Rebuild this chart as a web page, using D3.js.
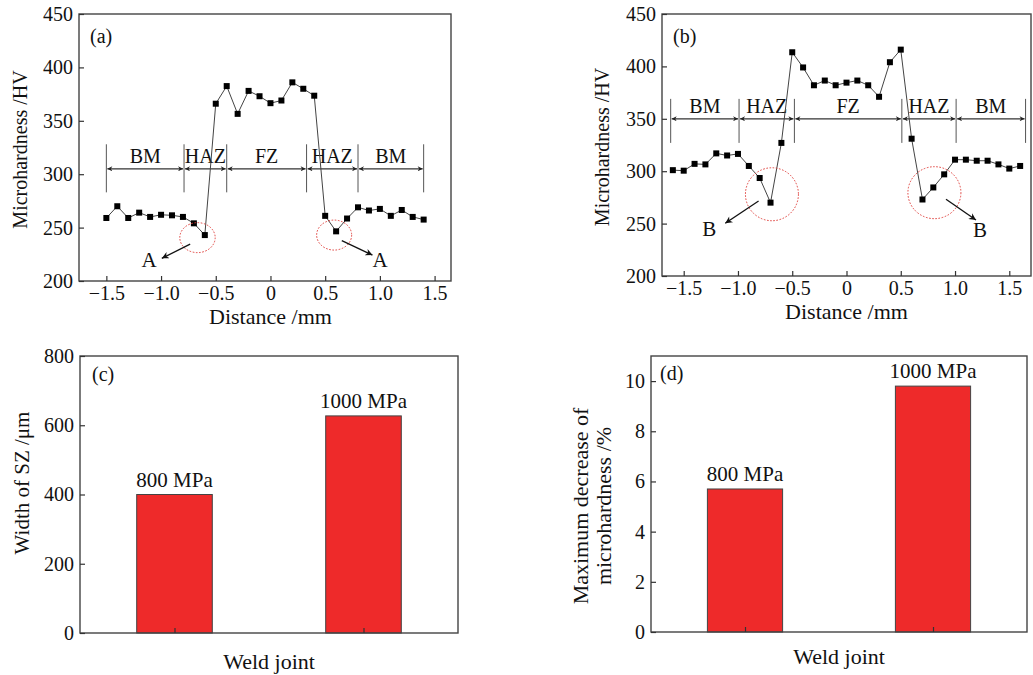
<!DOCTYPE html>
<html>
<head>
<meta charset="utf-8">
<script src="https://cdn.jsdelivr.net/npm/d3@7"></script>
<style>
body { margin: 0; background: white; }
text { font-family: "Liberation Serif", "Times New Roman", serif; fill: #111; }
</style>
</head>
<body>
<div id="chart"></div>
<script>
// Data

var distA = [-1.5, -1.4, -1.3, -1.2, -1.1, -1.0, -0.9, -0.8, -0.7, -0.6, -0.5, -0.4, -0.3, -0.2, -0.1, 0,
    0.1, 0.2, 0.3, 0.4, 0.5, 0.6, 0.7, 0.8, 0.9, 1.0, 1.1, 1.2, 1.3, 1.4];
var hvA = [259, 270, 259, 264, 260, 262, 261.5, 260, 254, 243, 366, 382.5, 356.5, 378, 373, 366.5,
    369, 386, 380, 373.5, 261, 246.5, 258.5, 269, 266, 267.5, 261, 266.5, 260, 257.5];

var distB = [-1.6, -1.5, -1.4, -1.3, -1.2, -1.1, -1.0, -0.9, -0.8, -0.7, -0.6, -0.5, -0.4, -0.3, -0.2, -0.1, 0,
    0.1, 0.2, 0.3, 0.4, 0.5, 0.6, 0.7, 0.8, 0.9, 1.0, 1.1, 1.2, 1.3, 1.4, 1.5, 1.6];
var hvB = [301, 300.5, 307, 306.5, 317, 315, 316.5, 305, 293.5, 270, 327, 413.5, 399, 382, 386.5, 382, 384.5,
    386.5, 382, 371, 404, 416, 331, 273, 284.5, 297, 311, 311, 310, 310, 306.5, 302.5, 305];

var zoneNames = ["BM", "HAZ", "FZ", "HAZ", "BM"];
var zoneBoundsA = [-1.5, -0.79, -0.4, 0.33, 0.8, 1.4];
var zoneBoundsB = [-1.62, -0.99, -0.48, 0.51, 1.01, 1.65];

var joints = ["800 MPa", "1000 MPa"];
var szWidth = [400, 627];
var hvDecrease = [5.7, 9.8];

var xTicks = [-1.5, -1.0, -0.5, 0, 0.5, 1.0, 1.5];
var hvTicks = [200, 250, 300, 350, 400, 450];
var szTicks = [0, 200, 400, 600, 800];
var decTicks = [0, 2, 4, 6, 8, 10];

var svg = d3.select("#chart")
    .append("svg")
    .attr("width", 1033)
    .attr("height", 675);

var defs = svg.append("defs");
defs.append("marker")
    .attr("id", "head")
    .attr("viewBox", "0 0 10 10")
    .attr("refX", 10)
    .attr("refY", 5)
    .attr("markerWidth", 7)
    .attr("markerHeight", 5)
    .attr("markerUnits", "userSpaceOnUse")
    .attr("orient", "auto-start-reverse")
    .append("path")
    .attr("d", "M0,0 L10,5 L0,10 L3,5 Z")
    .attr("fill", "#222");
defs.append("marker")
    .attr("id", "bighead")
    .attr("viewBox", "0 0 10 10")
    .attr("refX", 10)
    .attr("refY", 5)
    .attr("markerWidth", 10)
    .attr("markerHeight", 7)
    .attr("markerUnits", "userSpaceOnUse")
    .attr("orient", "auto")
    .append("path")
    .attr("d", "M0,0 L10,5 L0,10 L3,5 Z")
    .attr("fill", "#111");

var fmt = function(d) { return d === 0 ? "0" : d3.format(".1f")(d); };

function styleAxis(g) {
    g.select(".domain").remove();
    g.selectAll(".tick line").attr("stroke", "#333").attr("stroke-width", 1.2);
    g.selectAll(".tick text")
        .attr("fill", "#111")
        .style("font-family", "'Liberation Serif', serif")
        .style("font-size", "20px");
}

function frame(x0, x1, y0, y1) {
    svg.append("rect")
        .attr("x", x0).attr("y", y0)
        .attr("width", x1 - x0).attr("height", y1 - y0)
        .attr("fill", "none")
        .attr("stroke", "#444")
        .attr("stroke-width", 1.4);
}

// Microhardness profile panels

function profile(opt) {
    var x = d3.scaleLinear().domain(opt.xDomain).range([opt.left, opt.right]);
    var y = d3.scaleLinear().domain([200, 450]).range([opt.bottom, opt.top]);

    frame(opt.left, opt.right, opt.top, opt.bottom);

    svg.append("g")
        .attr("transform", "translate(0," + opt.bottom + ")")
        .call(d3.axisBottom(x).tickValues(xTicks).tickFormat(fmt).tickSizeInner(-5).tickSizeOuter(0).tickPadding(5))
        .call(styleAxis);
    svg.append("g")
        .attr("transform", "translate(" + opt.left + ",0)")
        .call(d3.axisLeft(y).tickValues(hvTicks).tickSizeInner(-5).tickSizeOuter(0).tickPadding(6))
        .call(styleAxis);

    // zones
    var zb = opt.zones;
    svg.append("g").selectAll("line")
        .data(zb)
        .enter()
        .append("line")
        .attr("x1", function(d) { return x(d); })
        .attr("x2", function(d) { return x(d); })
        .attr("y1", y(opt.zoneTop))
        .attr("y2", y(opt.zoneBottom))
        .attr("stroke", "#555")
        .attr("stroke-width", 1);
    svg.append("g").selectAll("line")
        .data(zoneNames)
        .enter()
        .append("line")
        .attr("x1", function(d, i) { return x(zb[i]) + 1; })
        .attr("x2", function(d, i) { return x(zb[i + 1]) - 1; })
        .attr("y1", y(opt.zoneArrow))
        .attr("y2", y(opt.zoneArrow))
        .attr("stroke", "#333")
        .attr("stroke-width", 1.3)
        .attr("marker-start", "url(#head)")
        .attr("marker-end", "url(#head)");
    svg.append("g").selectAll("text")
        .data(zoneNames)
        .enter()
        .append("text")
        .attr("x", function(d, i) { return x((zb[i] + zb[i + 1]) / 2); })
        .attr("y", y(opt.zoneArrow) - 6)
        .attr("text-anchor", "middle")
        .style("font-size", "20px")
        .text(function(d) { return d; });

    // series
    var line = d3.line()
        .x(function(d, i) { return x(opt.xs[i]); })
        .y(function(d) { return y(d); });
    svg.append("path")
        .datum(opt.ys)
        .attr("d", line)
        .attr("fill", "none")
        .attr("stroke", "#444")
        .attr("stroke-width", 1);
    svg.append("g").selectAll("rect")
        .data(opt.ys)
        .enter()
        .append("rect")
        .attr("x", function(d, i) { return x(opt.xs[i]) - 3; })
        .attr("y", function(d) { return y(d) - 3; })
        .attr("width", 6)
        .attr("height", 6)
        .attr("fill", "#000");

    // circled regions + arrows
    opt.circles.forEach(function(c) {
        svg.append("ellipse")
            .attr("cx", x(c[0])).attr("cy", y(c[1]))
            .attr("rx", c[2]).attr("ry", c[3])
            .attr("fill", "none")
            .attr("stroke", "#e0403c")
            .attr("stroke-width", 1)
            .attr("stroke-dasharray", "1.6,1.6");
    });
    opt.arrows.forEach(function(a) {
        svg.append("line")
            .attr("x1", x(a[0])).attr("y1", y(a[1]))
            .attr("x2", x(a[2])).attr("y2", y(a[3]))
            .attr("stroke", "#111")
            .attr("stroke-width", 1.3)
            .attr("marker-end", "url(#bighead)");
        svg.append("text")
            .attr("x", x(a[4])).attr("y", y(a[5]))
            .attr("text-anchor", "middle")
            .style("font-size", "21px")
            .text(opt.mark);
    });

    svg.append("text")
        .attr("x", opt.left + 11).attr("y", opt.top + 29)
        .style("font-size", "20px")
        .text(opt.tag);
    svg.append("text")
        .attr("transform", "translate(" + opt.yLabelX + "," + ((opt.top + opt.bottom) / 2 + 2) + ") rotate(-90)")
        .attr("text-anchor", "middle")
        .attr("dy", "0.35em")
        .style("font-size", "20px")
        .text("Microhardness /HV");
    svg.append("text")
        .attr("x", x(0))
        .attr("y", opt.bottom + 43)
        .attr("text-anchor", "middle")
        .style("font-size", "22px")
        .text("Distance /mm");
}

profile({
    tag: "(a)", mark: "A",
    xs: distA, ys: hvA, zones: zoneBoundsA,
    xDomain: [-1.75, 1.65],
    left: 79, right: 451, top: 14, bottom: 281, yLabelX: 20,
    zoneTop: 328, zoneBottom: 283, zoneArrow: 305,
    circles: [[-0.667, 240.6, 17.7, 15], [0.582, 243, 17.5, 15]],
    arrows: [[-0.734, 234.6, -0.993, 221.2, -1.109, 213.4],
             [0.652, 237.8, 0.932, 224.3, 1.002, 213.4]]
});

profile({
    tag: "(b)", mark: "B",
    xs: distB, ys: hvB, zones: zoneBoundsB,
    xDomain: [-1.7, 1.7],
    left: 662, right: 1031, top: 14, bottom: 276, yLabelX: 602,
    zoneTop: 369, zoneBottom: 327, zoneArrow: 350,
    circles: [[-0.687, 278, 26.5, 26.5], [0.81, 279.5, 26.5, 26]],
    arrows: [[-0.81, 271.6, -1.117, 250.3, -1.264, 238.2],
             [0.917, 273.2, 1.193, 253.4, 1.23, 236.9]]
});

// Bar panels

function bars(opt) {
    var x = d3.scaleBand().domain(joints).range([opt.left, opt.right])
        .paddingInner(0.6).paddingOuter(0.3);
    var y = d3.scaleLinear().domain(opt.yDomain).range([opt.bottom, opt.top]);

    svg.append("g").selectAll("rect")
        .data(opt.values)
        .enter()
        .append("rect")
        .attr("x", function(d, i) { return x(joints[i]); })
        .attr("y", function(d) { return y(d); })
        .attr("width", x.bandwidth())
        .attr("height", function(d) { return y(opt.yDomain[0]) - y(d); })
        .attr("fill", "#ee2a2a")
        .attr("stroke", "#444")
        .attr("stroke-width", 1);
    svg.append("g").selectAll("text")
        .data(opt.values)
        .enter()
        .append("text")
        .attr("x", function(d, i) { return x(joints[i]) + x.bandwidth() / 2; })
        .attr("y", function(d) { return y(d) - 8; })
        .attr("text-anchor", "middle")
        .style("font-size", "21px")
        .text(function(d, i) { return joints[i]; });

    frame(opt.left, opt.right, opt.top, opt.bottom);

    var xc = d3.scalePoint().domain(joints).range([opt.left, opt.right]).padding(0.5);
    svg.append("g")
        .attr("transform", "translate(0," + opt.bottom + ")")
        .call(d3.axisBottom(xc).tickSizeInner(-5).tickSizeOuter(0).tickFormat(""))
        .call(styleAxis);
    svg.append("g")
        .attr("transform", "translate(" + opt.left + ",0)")
        .call(d3.axisLeft(y).tickValues(opt.ticks).tickSizeInner(-5).tickSizeOuter(0).tickPadding(6))
        .call(styleAxis);

    svg.append("text")
        .attr("x", opt.tagX).attr("y", opt.tagY)
        .style("font-size", "20px")
        .text(opt.tag);
    var lab = svg.append("text")
        .attr("transform", "translate(" + opt.yLabelX + "," + opt.yLabelY + ") rotate(-90)")
        .attr("text-anchor", "middle")
        .style("font-size", opt.yLabelSize);
    opt.yLabel.forEach(function(s, i) {
        lab.append("tspan")
            .attr("x", 0)
            .attr("dy", i === 0 ? (0.35 - 0.55 * (opt.yLabel.length - 1)) + "em" : "1.05em")
            .text(s);
    });
    svg.append("text")
        .attr("x", (opt.left + opt.right) / 2)
        .attr("y", opt.bottom + opt.xLabelGap)
        .attr("text-anchor", "middle")
        .style("font-size", "22px")
        .text("Weld joint");
}

bars({
    tag: "(c)", tagX: 92, tagY: 381,
    values: szWidth, yDomain: [0, 800], ticks: szTicks,
    left: 80, right: 458, top: 356, bottom: 633,
    yLabel: ["Width of SZ /\u03bcm"], yLabelSize: "21px", yLabelX: 22, yLabelY: 483,
    xLabelGap: 36
});

bars({
    tag: "(d)", tagX: 660, tagY: 380,
    values: hvDecrease, yDomain: [0, 11], ticks: decTicks,
    left: 651, right: 1027, top: 356, bottom: 632,
    yLabel: ["Maximum decrease of", "microhardness /%"], yLabelSize: "22px", yLabelX: 592, yLabelY: 506,
    xLabelGap: 32
});
</script>
</body>
</html>
